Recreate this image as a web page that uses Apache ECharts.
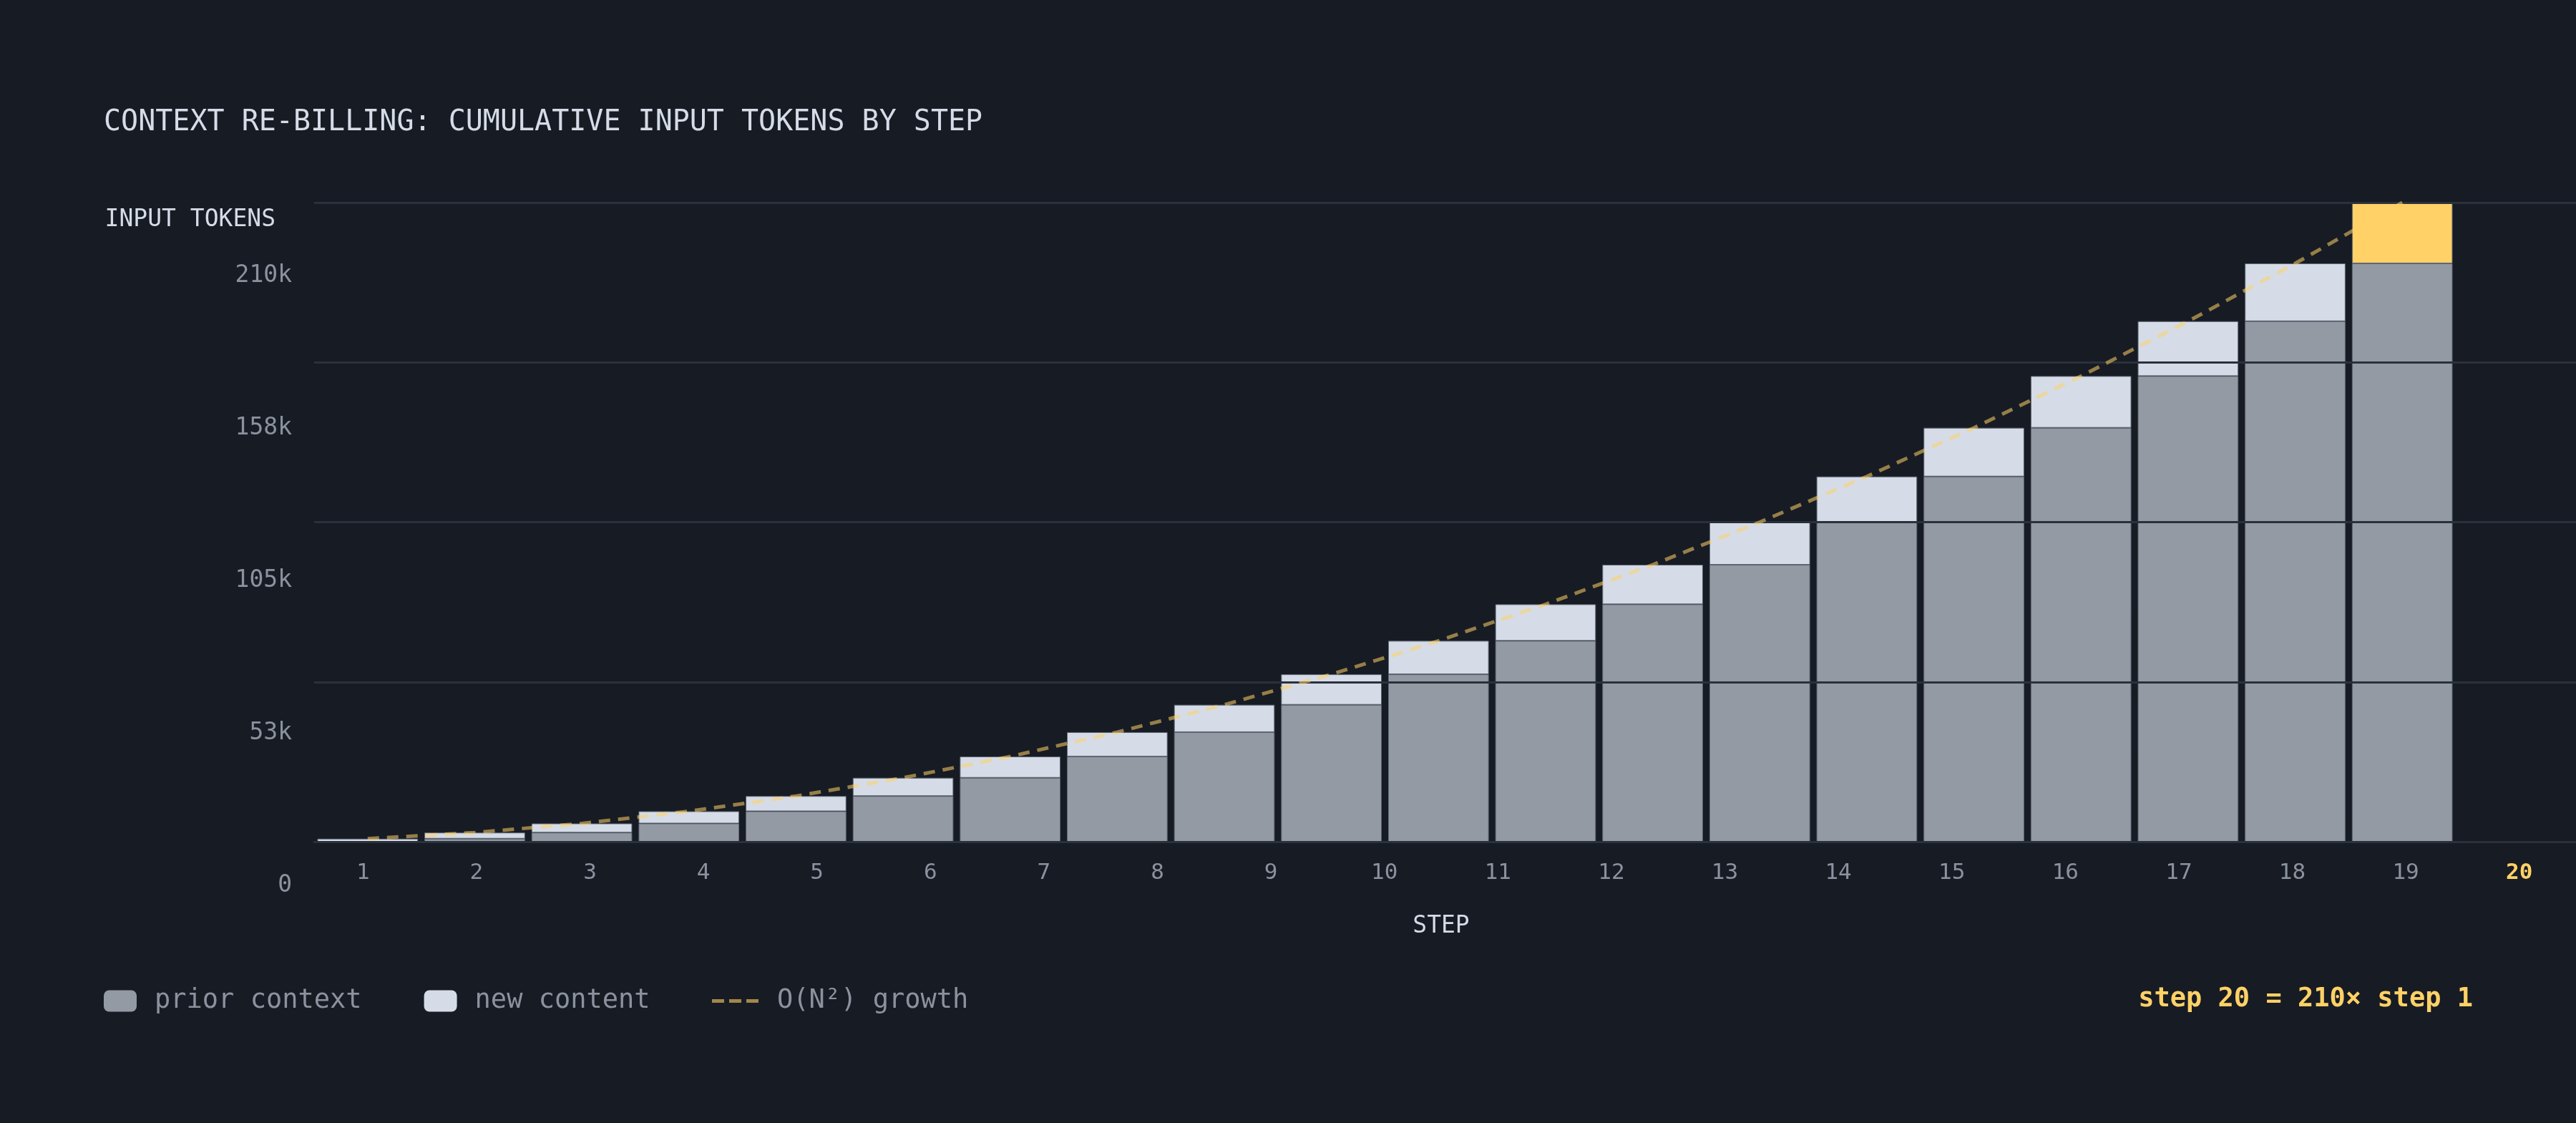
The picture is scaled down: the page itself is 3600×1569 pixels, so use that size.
<!DOCTYPE html>
<html>
<head>
  <meta charset="utf-8">
  <title>Context re-billing</title>
  <script src="https://cdn.jsdelivr.net/npm/echarts/dist/echarts.min.js"></script>
  <style>
    html, body { margin: 0; padding: 0; background: #171b24; }
    #chart { width: 3600px; height: 1569px; }
  </style>
</head>
<body>
  <div id="chart"></div>
  <script>
    // values (tokens)
    var steps = ['1','2','3','4','5','6','7','8','9','10','11','12','13','14','15','16','17','18','19','20'];
    var priorContext = [0, 1000, 3000, 6000, 10000, 15000, 21000, 28000, 36000, 45000,
                        55000, 66000, 78000, 91000, 105000, 120000, 136000, 153000, 171000, 190000];
    var newContent = [1000, 2000, 3000, 4000, 5000, 6000, 7000, 8000, 9000, 10000,
                      11000, 12000, 13000, 14000, 15000, 16000, 17000, 18000, 19000, 20000];
    var growth = [1000, 3000, 6000, 10000, 15000, 21000, 28000, 36000, 45000, 55000,
                  66000, 78000, 91000, 105000, 120000, 136000, 153000, 171000, 190000, 210000];
    var yTickLabels = ['0', '53k', '105k', '158k', '210k'];

    var MONO = 'DejaVu Sans Mono';
    var GRID_COLOR = '#2b313c';
    var LABEL_GRAY = '#8b929e';
    var LIGHT = '#d5dce7';
    var YELLOW = '#ffd166';

    var myChart = echarts.init(document.getElementById('chart'));

    // last step is highlighted
    var newData = newContent.map(function (v, i) {
      if (i === newContent.length - 1) {
        return { value: v, itemStyle: { color: YELLOW } };
      }
      return v;
    });

    var xData = steps.map(function (s, i) {
      if (i === steps.length - 1) {
        return { value: s, textStyle: { color: YELLOW, fontWeight: 'bold' } };
      }
      return s;
    });

    var option = {
      backgroundColor: '#171b24',
      animation: false,
      title: [
        {
          text: 'CONTEXT RE-BILLING: CUMULATIVE INPUT TOKENS BY STEP',
          left: 145, top: 152, padding: 0,
          textStyle: { color: LIGHT, fontFamily: MONO, fontSize: 40, fontWeight: 'normal' }
        },
        {
          text: 'step 20 = 210\u00d7 step 1',
          right: 144, top: 1378, padding: 0,
          textStyle: { color: YELLOW, fontFamily: MONO, fontSize: 37, fontWeight: 'bold' }
        }
      ],
      legend: [
        {
          left: 145, top: 1380, padding: 0,
          itemWidth: 46, itemHeight: 30, itemGap: 87,
          icon: 'roundRect',
          itemStyle: { borderWidth: 0 },
          textStyle: { color: LABEL_GRAY, fontFamily: MONO, fontSize: 37, padding: [0, 0, 0, 20] },
          data: ['prior context', 'new content']
        },
        {
          left: 995, top: 1380, padding: 0,
          itemWidth: 65, itemHeight: 5,
          textStyle: { color: LABEL_GRAY, fontFamily: MONO, fontSize: 37, padding: [0, 0, 0, 21] },
          data: [{
            name: 'O(N\u00b2) growth',
            icon: 'path://M0,0h17v5h-17z M24,0h17v5h-17z M48,0h17v5h-17z',
            itemStyle: { color: 'rgba(255,209,102,0.6)', borderWidth: 0 }
          }]
        }
      ],
      grid: [
        // bars and growth line
        { left: 439, top: 283, width: 2993, height: 893 },
        // grid lines and baseline, run to the right edge
        { left: 439, top: 283, right: 0, height: 893 },
        // step labels
        { left: 428, top: 283, width: 3182, height: 893 },
        // token labels
        { left: 439, top: 385, width: 100, height: 852 }
      ],
      xAxis: [
        { gridIndex: 0, type: 'category', data: steps, show: false },
        {
          gridIndex: 1, type: 'value', min: 0, max: 1, z: 3,
          axisLine: { show: true, lineStyle: { color: GRID_COLOR, width: 3 } },
          axisTick: { show: false }, axisLabel: { show: false }, splitLine: { show: false }
        },
        {
          gridIndex: 2, type: 'category', data: xData,
          axisLine: { show: false }, axisTick: { show: false },
          axisLabel: { color: LABEL_GRAY, fontFamily: MONO, fontSize: 31, margin: 28 },
          name: 'STEP', nameLocation: 'middle', nameGap: 102,
          nameTextStyle: { color: LIGHT, fontFamily: MONO, fontSize: 33 }
        },
        { gridIndex: 3, type: 'value', show: false }
      ],
      yAxis: [
        { gridIndex: 0, type: 'value', min: 0, max: 210000, show: false },
        {
          gridIndex: 1, type: 'value', min: 0, max: 210000, interval: 52500, z: 3,
          axisLine: { show: false }, axisTick: { show: false }, axisLabel: { show: false },
          splitLine: { show: true, lineStyle: { color: GRID_COLOR, width: 3 } }
        },
        { gridIndex: 2, type: 'value', show: false },
        {
          gridIndex: 3, type: 'value', min: 0, max: 210000, interval: 52500,
          axisLine: { show: false }, axisTick: { show: false }, splitLine: { show: false },
          axisLabel: {
            color: LABEL_GRAY, fontFamily: MONO, fontSize: 33, margin: 31,
            formatter: function (v, i) { return yTickLabels[i]; }
          },
          name: 'INPUT TOKENS', nameLocation: 'end', nameGap: 61,
          nameTextStyle: { color: LIGHT, fontFamily: MONO, fontSize: 33, align: 'right', padding: [0, 54, 0, 0] }
        }
      ],
      series: [
        {
          name: 'prior context', type: 'bar', stack: 'tokens',
          xAxisIndex: 0, yAxisIndex: 0,
          barCategoryGap: '6%',
          itemStyle: { color: '#939aa3', borderColor: '#5f6775', borderWidth: 1 },
          data: priorContext
        },
        {
          name: 'new content', type: 'bar', stack: 'tokens',
          xAxisIndex: 0, yAxisIndex: 0,
          barCategoryGap: '6%',
          itemStyle: { color: LIGHT, borderColor: '#5f6775', borderWidth: 1 },
          data: newData
        },
        {
          name: 'O(N\u00b2) growth', type: 'line',
          xAxisIndex: 0, yAxisIndex: 0, z: 5,
          symbol: 'none',
          itemStyle: { color: YELLOW },
          lineStyle: { color: YELLOW, width: 5, type: [16, 11], opacity: 0.55 },
          data: growth
        }
      ]
    };

    myChart.setOption(option);
  </script>
</body>
</html>
